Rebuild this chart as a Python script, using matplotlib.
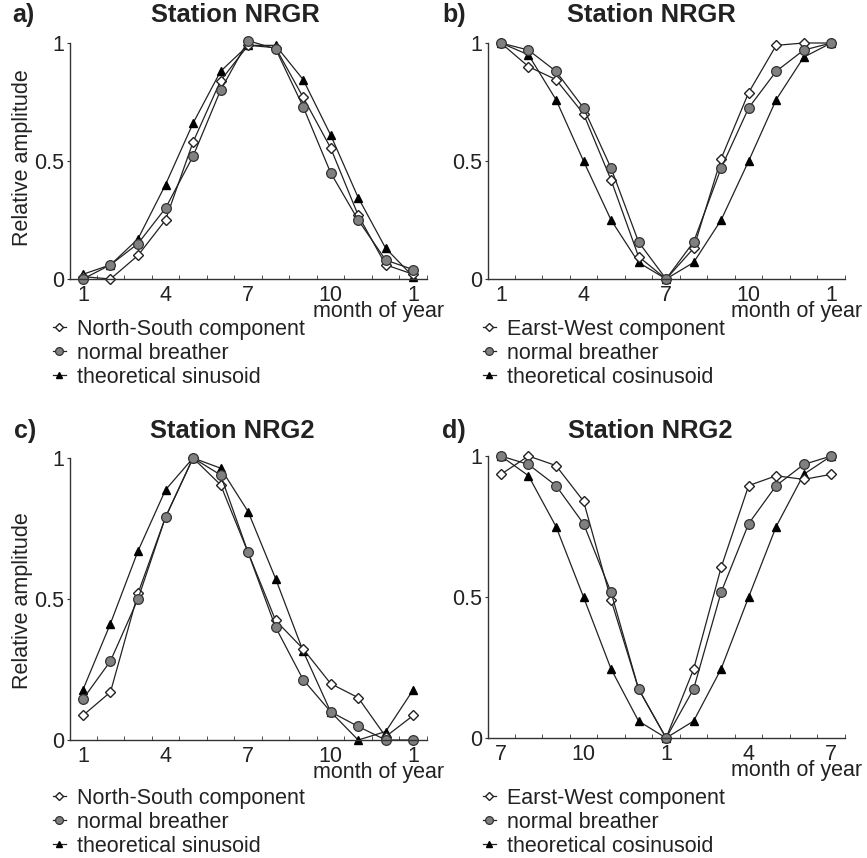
import numpy as np
import matplotlib
matplotlib.use("Agg")
import matplotlib.pyplot as plt

plt.rcParams['font.family'] = ['Liberation Sans', 'DejaVu Sans']

# month index along the x axis (13 points, first month repeated at the end)
months = np.arange(1, 14)
ticks_ac = ['1', '4', '7', '10', '1']
ticks_b = ['1', '4', '7', '10', '1']
ticks_d = ['7', '10', '1', '4', '7']

# panel a) NRGR, north-south
a_ns = [0.01, 0.0, 0.10, 0.25, 0.58, 0.84, 0.99, 0.98, 0.77, 0.555, 0.27, 0.06, 0.02]
a_breather = [0.0, 0.06, 0.15, 0.30, 0.52, 0.80, 1.01, 0.975, 0.73, 0.45, 0.25, 0.08, 0.04]
a_sin = [0.02, 0.06, 0.17, 0.40, 0.66, 0.88, 0.99, 0.99, 0.845, 0.61, 0.345, 0.13, 0.01]

# panel b) NRGR, east-west
b_ew = [1.0, 0.90, 0.845, 0.70, 0.42, 0.095, 0.0, 0.13, 0.51, 0.79, 0.99, 1.0, 1.0]
b_breather = [1.0, 0.97, 0.88, 0.725, 0.47, 0.157, 0.0, 0.157, 0.47, 0.725, 0.88, 0.97, 1.0]
b_cos = [1.0, 0.95, 0.76, 0.50, 0.25, 0.07, 0.0, 0.07, 0.25, 0.50, 0.76, 0.94, 1.0]

# panel c) NRG2, north-south
c_ns = [0.087, 0.17, 0.52, 0.79, 1.0, 0.905, 0.665, 0.424, 0.323, 0.20, 0.15, 0.012, 0.087]
c_breather = [0.145, 0.28, 0.50, 0.79, 1.0, 0.94, 0.665, 0.40, 0.214, 0.10, 0.048, 0.0, 0.0]
c_sin = [0.178, 0.413, 0.67, 0.887, 1.0, 0.964, 0.81, 0.572, 0.315, 0.10, 0.0, 0.03, 0.178]

# panel d) NRG2, east-west
d_ew = [0.935, 1.0, 0.966, 0.84, 0.49, 0.174, 0.0, 0.244, 0.605, 0.895, 0.93, 0.917, 0.935]
d_breather = [1.0, 0.97, 0.895, 0.76, 0.517, 0.174, 0.0, 0.174, 0.517, 0.76, 0.895, 0.97, 1.0]
d_cos = [1.0, 0.93, 0.75, 0.50, 0.245, 0.06, 0.0, 0.06, 0.245, 0.50, 0.75, 0.935, 1.0]

W, H = 867, 858
fig = plt.figure(figsize=(W / 100, H / 100), dpi=100)

INK = '#222222'
FS = 15.5


def panel(rect, comp, breather, theo, ticklabels, comp_label, theo_label, legend_xy):
    l, top, r, bot = rect
    ax = fig.add_axes([l / W, 1 - bot / H, (r - l) / W, (bot - top) / H])
    kw = dict(color=INK, lw=0.9, clip_on=False)
    h3, = ax.plot(months, theo, marker='^', ms=6, mfc='black', mec='black', **kw)
    h1, = ax.plot(months, comp, marker='D', ms=5.3, mfc='white', mec=INK, mew=1.0, **kw)
    h2, = ax.plot(months, breather, marker='o', ms=7, mfc='#808080', mec='#333333', mew=0.9, **kw)
    ax.set_xlim(0.53, 13.5)
    ax.set_ylim(0, 1)
    for s in ['top', 'right']:
        ax.spines[s].set_visible(False)
    for s in ['left', 'bottom']:
        ax.spines[s].set_color('#333333')
        ax.spines[s].set_linewidth(1.0)
    ax.set_xticks([1, 4, 7, 10, 13])
    ax.set_xticklabels(ticklabels)
    ax.set_xticks(np.arange(1.5, 14, 1), minor=True)
    ax.tick_params(axis='x', which='major', length=0, pad=4.5, labelsize=FS, labelcolor=INK)
    ax.tick_params(axis='x', which='minor', length=3, direction='in', color='#333333')
    ax.set_yticks([0, 0.5, 1])
    ax.set_yticklabels(['0', '0.5', '1'])
    ax.tick_params(axis='y', length=2.5, pad=1.5, labelsize=FS, labelcolor=INK, color='#333333')
    ax.annotate('month of year', xy=(1, 0), xycoords='axes fraction',
                xytext=(12, -16), textcoords='offset points',
                ha='right', va='top', fontsize=FS, color=INK)
    ax.legend([h1, h2, h3], [comp_label, 'normal breather', theo_label],
              loc='upper left', bbox_to_anchor=(legend_xy[0] / W, 1 - legend_xy[1] / H),
              bbox_transform=fig.transFigure, frameon=False, fontsize=FS,
              handlelength=0.6, handletextpad=0.5, labelspacing=0.13, markerscale=0.8,
              borderpad=0, borderaxespad=0, numpoints=1, labelcolor=INK)
    return ax


panel((70, 43, 427, 279), a_ns, a_breather, a_sin, ticks_ac,
      'North-South component', 'theoretical sinusoid', (53, 319))
panel((488, 43, 845, 279), b_ew, b_breather, b_cos, ticks_b,
      'Earst-West component', 'theoretical cosinusoid', (483, 319))
panel((70, 458, 427, 740), c_ns, c_breather, c_sin, ticks_ac,
      'North-South component', 'theoretical sinusoid', (53, 788))
panel((488, 456, 845, 738), d_ew, d_breather, d_cos, ticks_d,
      'Earst-West component', 'theoretical cosinusoid', (483, 788))

# panel letters and titles
for x, y, s in [(12, 15, 'a)'), (442, 15, 'b)'), (14, 431, 'c)'), (442, 431, 'd)')]:
    fig.text(x / W, 1 - y / H, s, ha='left', va='center', fontsize=18, fontweight='bold', color=INK)
for x, y, s in [(235, 15, 'Station NRGR'), (651, 15, 'Station NRGR'),
                (232, 431, 'Station NRG2'), (650, 431, 'Station NRG2')]:
    fig.text(x / W, 1 - y / H, s, ha='center', va='center', fontsize=18.4, fontweight='bold', color=INK)

for y in [158, 601]:
    fig.text(23 / W, 1 - y / H, 'Relative amplitude', rotation=90, ha='center', va='center',
             fontsize=FS, color=INK)

fig.savefig('out.png', dpi=100)
